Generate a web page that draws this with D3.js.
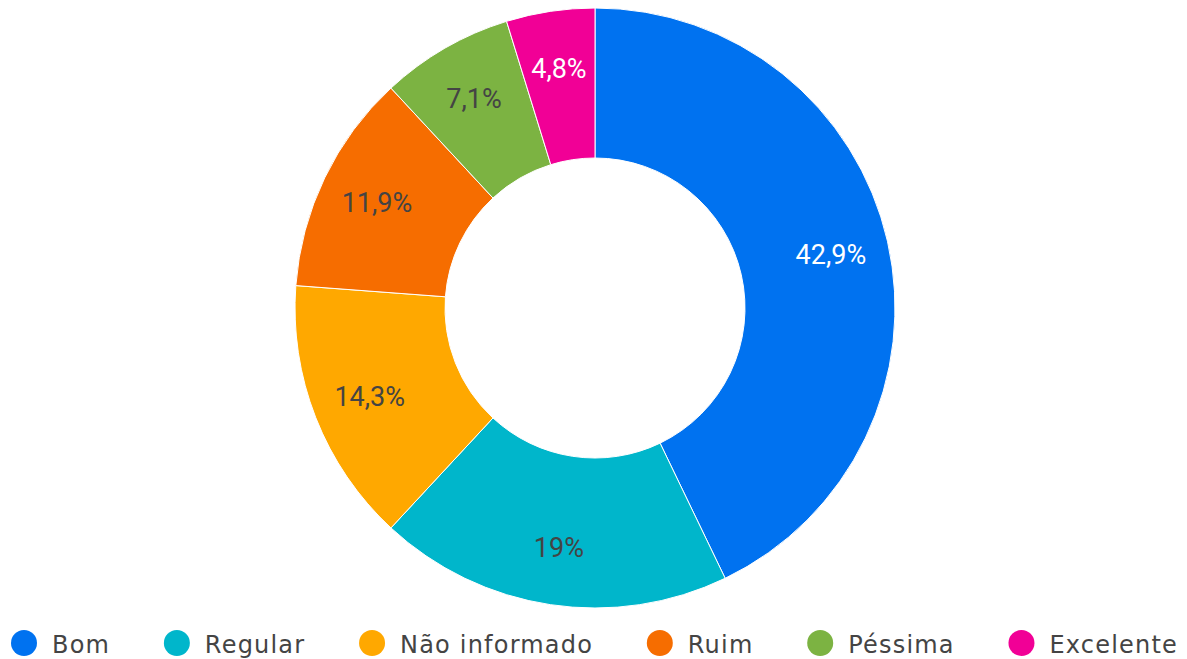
<!DOCTYPE html>
<html>
<head>
<meta charset="utf-8">
<script src="https://cdn.jsdelivr.net/npm/d3@7"></script>
<style>
  body { margin: 0; background: #fff; }
  svg { display: block; }
</style>
</head>
<body>
<div id="chart"></div>
<script>
// data
var categories = ["Bom", "Regular", "Não informado", "Ruim", "Péssima", "Excelente"];
var values = [18, 8, 6, 5, 3, 2];
var labels = ["42,9%", "19%", "14,3%", "11,9%", "7,1%", "4,8%"];
var colors = ["#0072f0", "#00b6cb", "#ffa800", "#f66d00", "#7cb342", "#f10096"];
var labelColors = ["#fff", "#444", "#444", "#444", "#444", "#fff"];

var width = 1187, height = 659;
var cx = 595, cy = 308;
var outerR = 300, innerR = 150, labelR = 242;

var svg = d3.select("#chart").append("svg")
  .attr("width", width)
  .attr("height", height);

var data = categories.map(function(c, i) {
  return {name: c, value: values[i], label: labels[i], color: colors[i], tc: labelColors[i]};
});

var pie = d3.pie().sort(null).value(function(d) { return d.value; });
var arc = d3.arc().innerRadius(innerR).outerRadius(outerR);
var labelArc = d3.arc().innerRadius(labelR).outerRadius(labelR);

var g = svg.append("g").attr("transform", "translate(" + cx + "," + cy + ")");

var slices = g.selectAll("g.slice")
  .data(pie(data))
  .enter().append("g")
  .attr("class", "slice");

slices.append("path")
  .attr("d", arc)
  .attr("fill", function(d) { return d.data.color; })
  .attr("stroke", "#fff")
  .attr("stroke-width", 1);

slices.append("text")
  .attr("transform", function(d) { return "translate(" + labelArc.centroid(d) + ")"; })
  .attr("text-anchor", "middle")
  .attr("dy", "0.35em")
  .style("font-family", "Roboto, sans-serif")
  .style("font-size", "27px")
  .attr("fill", function(d) { return d.data.tc; })
  .text(function(d) { return d.data.label; });

// legend
var legend = svg.append("g").attr("transform", "translate(0,643)");
var items = legend.selectAll("g.item")
  .data(data)
  .enter().append("g")
  .attr("class", "item");

items.append("circle")
  .attr("r", 13)
  .attr("cx", 13)
  .attr("fill", function(d) { return d.color; });

items.append("text")
  .attr("x", 41)
  .attr("y", 10)
  .style("font-family", "'DejaVu Sans', sans-serif")
  .style("font-size", "24px")
  .style("letter-spacing", "1.2px")
  .attr("fill", "#444")
  .text(function(d) { return d.name; });

//lay out legend items across the bottom row
var left = 11, right = 1178;
var widths = [];
items.each(function(d) {
  widths.push(41 + d3.select(this).select("text").node().getComputedTextLength());
});
var gap = (right - left - d3.sum(widths)) / (data.length - 1);
var x = left;
var offsets = widths.map(function(w) { var o = x; x += w + gap; return o; });
items.attr("transform", function(d, i) { return "translate(" + offsets[i] + ",0)"; });
</script>
</body>
</html>
